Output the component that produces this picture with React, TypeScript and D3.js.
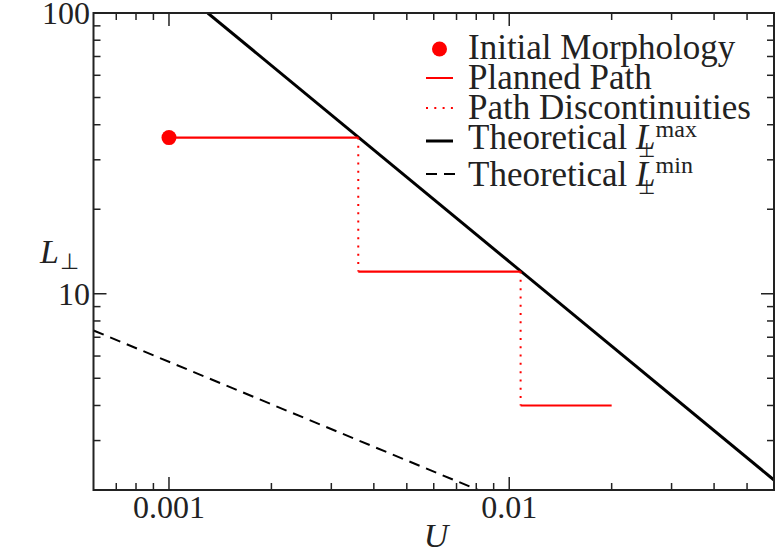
import React, { useEffect, useRef } from "react";
import * as d3 from "d3";

// ---- data ----
const initU = [0.001];
const initL = [36];

const segStartU = [0.001, 0.0036, 0.0108];
const segEndU = [0.0036, 0.0108, 0.02];
const segL = [36, 12, 4];

const jumpU = [0.0036, 0.0108];
const jumpFromL = [36, 12];
const jumpToL = [12, 4];

const lmaxU = [0.0013, 0.06];
const lmaxL = [100, 2.17];

const lminU = [0.0006, 0.0081];
const lminL = [7.4, 2];

const xMajor = [0.001, 0.01];
const xMajorLabels = ["0.001", "0.01"];
const xMinor = [0.0007, 0.0008, 0.0009, 0.002, 0.003, 0.004, 0.005, 0.006, 0.007, 0.008, 0.009, 0.02, 0.03, 0.04, 0.05];
const yMajor = [10, 100];
const yMajorLabels = ["10", "100"];
const yMinor = [2, 3, 4, 5, 6, 7, 8, 9, 20, 30, 40, 50, 60, 70, 80, 90];

const legendLabels = ["Initial Morphology", "Planned Path", "Path Discontinuities", "Theoretical\u00a0", "Theoretical\u00a0"];
const legendSup = ["", "", "", "max", "min"];

const W = 777, H = 554;
const L = 93.5, R = 774, T = 13, B = 490;
const FONT = "'Liberation Serif', 'Times New Roman', serif";
const TXT = "#222";

export default function App() {
  const ref = useRef<SVGSVGElement>(null);
  useEffect(() => {
    const svg = d3.select(ref.current);
    svg.selectAll("*").remove();
    const x = d3.scaleLog().domain([0.0006, 0.06]).range([L, R]);
    const y = d3.scaleLog().domain([2, 100]).range([B, T]);

    svg.append("rect").attr("width", W).attr("height", H).attr("fill", "#fff");
    const defs = svg.append("defs");
    defs.append("clipPath").attr("id", "clip").append("rect")
      .attr("x", L).attr("y", T).attr("width", R - L).attr("height", B - T);

    const plot = svg.append("g").attr("clip-path", "url(#clip)");
    const line = d3.line<[number, number]>().x(d => x(d[0])).y(d => y(d[1]));

    // Lmin dashed
    plot.append("path").datum(lminU.map((u, i) => [u, lminL[i]] as [number, number]))
      .attr("d", line).attr("fill", "none").attr("stroke", "#000")
      .attr("stroke-width", 2).attr("stroke-dasharray", "11,7");
    // Lmax solid
    plot.append("path").datum(lmaxU.map((u, i) => [u, lmaxL[i]] as [number, number]))
      .attr("d", line).attr("fill", "none").attr("stroke", "#000").attr("stroke-width", 3);

    // discontinuities
    jumpU.forEach((u, i) => {
      plot.append("path").datum([[u, jumpFromL[i]], [u, jumpToL[i]]] as [number, number][])
        .attr("d", line).attr("fill", "none").attr("stroke", "#ff0000")
        .attr("stroke-width", 2).attr("stroke-dasharray", "2,6.3");
    });
    // planned path
    segL.forEach((l, i) => {
      plot.append("path").datum([[segStartU[i], l], [segEndU[i], l]] as [number, number][])
        .attr("d", line).attr("fill", "none").attr("stroke", "#ff0000").attr("stroke-width", 2.2);
    });
    // initial point
    plot.selectAll("circle.init").data(initU).enter().append("circle")
      .attr("cx", d => x(d)).attr("cy", (d, i) => y(initL[i])).attr("r", 7.5).attr("fill", "#ff0000");

    // frame
    svg.append("rect").attr("x", L).attr("y", T).attr("width", R - L).attr("height", B - T)
      .attr("fill", "none").attr("stroke", TXT).attr("stroke-width", 2);

    const ticks = svg.append("g").attr("stroke", TXT).attr("stroke-width", 1.5);
    const xt = (vals: number[], len: number) => vals.forEach(v => {
      ticks.append("line").attr("x1", x(v)).attr("x2", x(v)).attr("y1", B).attr("y2", B - len);
      ticks.append("line").attr("x1", x(v)).attr("x2", x(v)).attr("y1", T).attr("y2", T + len);
    });
    const yt = (vals: number[], len: number) => vals.forEach(v => {
      ticks.append("line").attr("y1", y(v)).attr("y2", y(v)).attr("x1", L).attr("x2", L + len);
      ticks.append("line").attr("y1", y(v)).attr("y2", y(v)).attr("x1", R).attr("x2", R - len);
    });
    xt(xMajor, 13); xt(xMinor, 7); yt(yMajor, 13); yt(yMinor, 7);

    const txt = svg.append("g").attr("font-family", FONT).attr("fill", TXT);
    xMajor.forEach((v, i) => {
      txt.append("text").attr("x", x(v)).attr("y", 518).attr("text-anchor", "middle")
        .attr("font-size", 32).text(xMajorLabels[i]);
    });
    yMajor.forEach((v, i) => {
      txt.append("text").attr("x", 90).attr("y", y(v) + 11).attr("text-anchor", "end")
        .attr("font-size", 32).text(yMajorLabels[i]);
    });
    // axis labels
    txt.append("text").attr("x", 436).attr("y", 547).attr("text-anchor", "middle")
      .attr("font-size", 34).attr("font-style", "italic").text("U");
    txt.append("text").attr("x", 40).attr("y", 263).attr("font-size", 34)
      .attr("font-style", "italic").text("L");
    txt.append("text").attr("x", 60).attr("y", 269).attr("font-size", 22).text("⊥");

    // legend
    const lx = 468, hx1 = 426, hx2 = 453;
    const baselines = [59.3, 89.3, 119, 149.3, 185.5];
    const handleY = [49, 78, 108, 141, 174];
    const lg = svg.append("g");
    lg.append("circle").attr("cx", (hx1 + hx2) / 2).attr("cy", handleY[0]).attr("r", 7.5).attr("fill", "#ff0000");
    lg.append("line").attr("x1", hx1).attr("x2", hx2).attr("y1", handleY[1]).attr("y2", handleY[1])
      .attr("stroke", "#ff0000").attr("stroke-width", 2);
    lg.append("line").attr("x1", hx1).attr("x2", hx2).attr("y1", handleY[2]).attr("y2", handleY[2])
      .attr("stroke", "#ff0000").attr("stroke-width", 2).attr("stroke-dasharray", "2,6.3");
    lg.append("line").attr("x1", hx1).attr("x2", hx2).attr("y1", handleY[3]).attr("y2", handleY[3])
      .attr("stroke", "#000").attr("stroke-width", 3);
    lg.append("line").attr("x1", hx1).attr("x2", hx2 + 2).attr("y1", handleY[4]).attr("y2", handleY[4])
      .attr("stroke", "#000").attr("stroke-width", 2).attr("stroke-dasharray", "11,7");

    legendLabels.forEach((lab, i) => {
      const t = txt.append("text").attr("x", lx).attr("y", baselines[i]).attr("font-size", 35).text(lab);
      if (legendSup[i]) {
        const w0 = (t.node() as SVGTextElement).getComputedTextLength();
        t.append("tspan").attr("font-style", "italic").text("L");
        const w1 = (t.node() as SVGTextElement).getComputedTextLength();
        txt.append("text").attr("x", lx + w1).attr("y", baselines[i] - 12.6)
          .attr("font-size", 24).text(legendSup[i]);
        txt.append("text").attr("x", lx + w0 + 2).attr("y", baselines[i] + 8)
          .attr("font-size", 20).text("⊥");
      }
    });
  }, []);
  return (
    <svg ref={ref} width={W} height={H}
      style={{ position: "absolute", left: 0, top: 0, display: "block" }} />
  );
}
